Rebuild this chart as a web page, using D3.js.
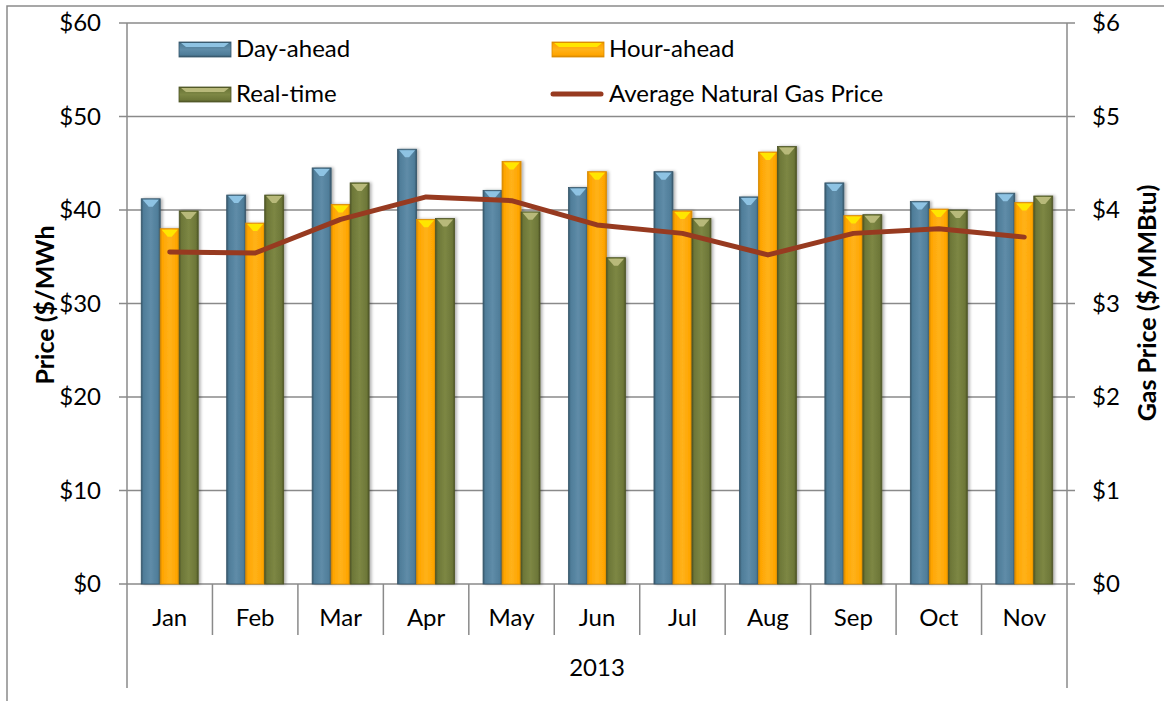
<!DOCTYPE html>
<html><head><meta charset="utf-8">
<script src="https://cdn.jsdelivr.net/npm/d3@7"></script>
<style>body{margin:0;background:#fff}svg{display:block}text{font-family:Lato,"Open Sans",sans-serif;fill:#000}</style>
</head><body><svg id="c" width="1164" height="701"></svg>
<script>
const months = ["Jan","Feb","Mar","Apr","May","Jun","Jul","Aug","Sep","Oct","Nov"];
const seriesNames = ["Day-ahead","Hour-ahead","Real-time"];
const dayAhead  = [41.2,41.6,44.5,46.5,42.1,42.4,44.1,41.4,42.9,40.9,41.8];
const hourAhead = [38.0,38.6,40.6,39.0,45.2,44.1,39.9,46.2,39.4,40.1,40.8];
const realTime  = [39.9,41.6,42.9,39.1,39.8,34.9,39.1,46.8,39.5,40.0,41.5];
const gasPrice  = [3.55,3.54,3.90,4.14,4.10,3.84,3.75,3.52,3.75,3.80,3.71];
const priceTicks = [0,10,20,30,40,50,60];
const gasTicks = [0,1,2,3,4,5,6];
const yearLabel = "2013";
const gasName = "Average Natural Gas Price";

const svg = d3.select("#c");
const L=127, R=1067, T=23, B=584;
const x = d3.scaleBand().domain(months).range([L,R]);
const xs = d3.scaleBand().domain(seriesNames).range([0,x.bandwidth()]).paddingOuter(0.75);
const y = d3.scaleLinear().domain([0,60]).range([B,T]);
const y2 = d3.scaleLinear().domain([0,6]).range([B,T]);
const grid="#8a8a8a";

const styles = {
  "Day-ahead":{edge:"#36566a",body:"#4f7d99",hi:"#5f8ca8",top:"#8ec3e3"},
  "Hour-ahead":{edge:"#d98a00",body:"#ffa500",hi:"#ffb21a",top:"#ffe600"},
  "Real-time":{edge:"#4e5526",body:"#6d7738",hi:"#7d8744",top:"#b8b97a"}
};
const defs = svg.append("defs");
seriesNames.forEach((s,i)=>{
  const g = defs.append("linearGradient").attr("id","g"+i).attr("x1","0").attr("x2","1").attr("y1","0").attr("y2","0");
  const st=styles[s];
  [[0,st.edge],[0.12,st.body],[0.5,st.hi],[0.88,st.body],[1,st.edge]].forEach(([o,c])=>g.append("stop").attr("offset",o).attr("stop-color",c));
  const gh = defs.append("linearGradient").attr("id","h"+i).attr("x1","0").attr("x2","0").attr("y1","0").attr("y2","1");
  [[0,st.edge],[0.15,st.body],[0.5,st.hi],[0.85,st.body],[1,st.edge]].forEach(([o,c])=>gh.append("stop").attr("offset",o).attr("stop-color",c));
});
const f = defs.append("filter").attr("id","sh").attr("x","-30%").attr("y","-5%").attr("width","160%").attr("height","110%");
f.append("feDropShadow").attr("dx",2).attr("dy",0).attr("stdDeviation",1.5).attr("flood-color","#000").attr("flood-opacity",0.3);

// outer frame
svg.append("path").attr("d","M7,701 V6 H1164").attr("fill","none").attr("stroke","#8a8a8a").attr("stroke-width",1.5);

// gridlines (extending as tick marks on both sides)
svg.append("g").selectAll("line").data(priceTicks).join("line")
  .attr("x1",L-8).attr("x2",R+8).attr("y1",d=>y(d)).attr("y2",d=>y(d))
  .attr("stroke",grid).attr("stroke-width",1.5);

// axis verticals
svg.append("line").attr("x1",L).attr("x2",L).attr("y1",T).attr("y2",688).attr("stroke",grid).attr("stroke-width",1.5);
svg.append("line").attr("x1",R).attr("x2",R).attr("y1",T).attr("y2",688).attr("stroke",grid).attr("stroke-width",1.5);
// category separators
svg.append("g").selectAll("line").data(months.slice(1)).join("line")
  .attr("x1",d=>x(d)).attr("x2",d=>x(d)).attr("y1",B).attr("y2",635)
  .attr("stroke",grid).attr("stroke-width",1.5);

// bars
const data = [dayAhead,hourAhead,realTime];
const bw = xs.bandwidth();
seriesNames.forEach((s,i)=>{
  const g = svg.append("g");
  const bars = months.map((m,j)=>({m,v:data[i][j]}));
  g.selectAll("rect").data(bars).join("rect")
    .attr("x",d=>x(d.m)+xs(s)).attr("width",bw)
    .attr("y",d=>y(d.v)).attr("height",d=>B-y(d.v))
    .attr("fill",`url(#g${i})`).attr("stroke",styles[s].edge).attr("stroke-width",0.8)
    .attr("filter","url(#sh)");
  g.selectAll("path").data(bars).join("path")
    .attr("d",d=>{const x0=x(d.m)+xs(s), y0=y(d.v);
      return `M${x0+1.5},${y0+1}H${x0+bw-1.5}L${x0+bw/2+2},${y0+8}H${x0+bw/2-2}Z`;})
    .attr("fill",styles[s].top);
});

// gas line
svg.append("path").datum(gasPrice)
  .attr("d",d3.line().x((d,j)=>x(months[j])+x.bandwidth()/2).y(d=>y2(d)))
  .attr("fill","none").attr("stroke","#973a20").attr("stroke-width",5)
  .attr("stroke-linecap","round").attr("stroke-linejoin","round");

// tick labels
const fs=24;
svg.append("g").selectAll("text").data(priceTicks).join("text")
  .attr("x",101).attr("y",d=>y(d)).attr("dy","0.35em").attr("text-anchor","end")
  .attr("font-size",fs).text(d=>"$"+d);
svg.append("g").selectAll("text").data(gasTicks).join("text")
  .attr("x",1092).attr("y",d=>y2(d)).attr("dy","0.35em").attr("text-anchor","start")
  .attr("font-size",fs).text(d=>"$"+d);
svg.append("g").selectAll("text").data(months).join("text")
  .attr("x",d=>x(d)+x.bandwidth()/2).attr("y",618).attr("dy","0.35em").attr("text-anchor","middle")
  .attr("font-size",fs).text(d=>d);
svg.append("text").attr("x",(L+R)/2).attr("y",668).attr("dy","0.35em").attr("text-anchor","middle")
  .attr("font-size",fs).text(yearLabel);

// axis titles
svg.append("text").attr("transform","translate(45,305) rotate(-90)").attr("dy","0.35em")
  .attr("text-anchor","middle").attr("font-size",25).attr("font-weight","bold").text("Price ($/MWh");
svg.append("text").attr("transform","translate(1147,303) rotate(-90)").attr("dy","0.35em")
  .attr("text-anchor","middle").attr("font-size",25).attr("font-weight","bold").text("Gas Price ($/MMBtu)");

// legend
const leg = [
  {name:"Day-ahead",i:0,x:179,y:49},
  {name:"Hour-ahead",i:1,x:552,y:49},
  {name:"Real-time",i:2,x:179,y:94}
];
leg.forEach(d=>{
  svg.append("rect").attr("x",d.x).attr("y",d.y-7).attr("width",52).attr("height",15)
    .attr("fill",`url(#h${d.i})`).attr("stroke",styles[d.name].edge).attr("stroke-width",0.8);
  svg.append("path").attr("d",`M${d.x+2},${d.y-6}H${d.x+50}L${d.x+45},${d.y-2}H${d.x+7}Z`).attr("fill",styles[d.name].top);
  svg.append("text").attr("x",d.x+57).attr("y",d.y).attr("dy","0.35em").attr("font-size",fs).text(d.name);
});
svg.append("line").attr("x1",553).attr("x2",601).attr("y1",94).attr("y2",94)
  .attr("stroke","#973a20").attr("stroke-width",5).attr("stroke-linecap","round");
svg.append("text").attr("x",609).attr("y",94).attr("dy","0.35em").attr("font-size",fs).text(gasName);
</script></body></html>
